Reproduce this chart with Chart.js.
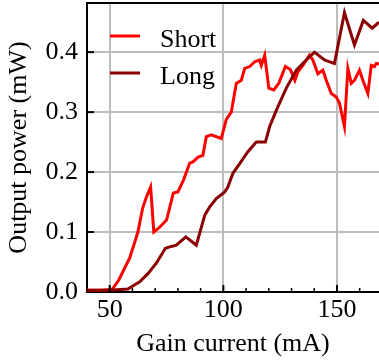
<!DOCTYPE html>
<html>
<head>
<meta charset="utf-8">
<script src="https://cdn.jsdelivr.net/npm/chart.js@4.4.1/dist/chart.umd.min.js"></script>
<style>
  html, body { margin: 0; padding: 0; background: #fff; overflow: hidden; }
  canvas { display: block; }
</style>
</head>
<body>
<canvas id="chart" width="379" height="360"></canvas>
<script>
// Laser output power versus gain current for two cavity lengths
const seriesLabels = ['Short', 'Long'];

const shortCurrent = [40, 46, 51, 54, 56.6, 58.8, 61, 62.4, 64.5, 66.3, 68, 69.4, 72, 75, 78, 80, 82.5,
  85.2, 86.6, 88.9, 91, 92.5, 94.7, 99.1, 101.3, 103.5, 105.7, 107.9, 109.4, 111.6, 113.8, 116, 116.7,
  118.2, 120, 122.2, 124.4, 127.3, 129.5, 131.5, 132.8, 135, 137.9, 139.4, 141.6, 143.8, 145.3, 147.5,
  149.7, 151.1, 153.3, 154.8, 156.3, 157.7, 159.9, 161.4, 163.6, 165.1, 166.5, 167.3, 168.5];
const shortPower = [0.003, 0.003, 0.004, 0.02, 0.04, 0.057, 0.083, 0.10, 0.14, 0.16, 0.175, 0.10, 0.108,
  0.12, 0.165, 0.167, 0.187, 0.215, 0.217, 0.225, 0.228, 0.259, 0.262, 0.256, 0.288, 0.30, 0.348, 0.353,
  0.373, 0.376, 0.384, 0.387, 0.378, 0.395, 0.34, 0.337, 0.348, 0.376, 0.371, 0.353, 0.367, 0.378, 0.395,
  0.387, 0.364, 0.37, 0.353, 0.331, 0.325, 0.315, 0.276, 0.373, 0.348, 0.353, 0.37, 0.353, 0.331, 0.378,
  0.376, 0.381, 0.38];

const longCurrent = [40, 50, 58, 61, 63.2, 66.9, 70.5, 74.5, 77.1, 79.3, 83.5, 88.1, 91.8, 94, 96.9,
  100.6, 102, 104.2, 107.2, 110.8, 114.5, 118.5, 120.4, 123.3, 127.7, 132.1, 135.7, 140.1, 144.5, 148.9,
  153.3, 157.7, 161.6, 165.5, 168.5];
const longPower = [0.003, 0.003, 0.005, 0.012, 0.017, 0.031, 0.048, 0.073, 0.076, 0.078, 0.092, 0.078,
  0.128, 0.142, 0.156, 0.167, 0.175, 0.198, 0.214, 0.234, 0.25, 0.25, 0.276, 0.303, 0.34, 0.37, 0.384,
  0.40, 0.387, 0.381, 0.466, 0.412, 0.453, 0.44, 0.45];

const xMajorTicks = [50, 100, 150];
const xMinorTicks = [60, 70, 80, 90, 110, 120, 130, 140, 160];
const yTicks = [0, 0.1, 0.2, 0.3, 0.4];

const SERIF = "'Liberation Serif', 'Times New Roman', serif";
const FONT_SIZE = 26;

Chart.defaults.font.family = SERIF;
Chart.defaults.font.size = FONT_SIZE;
Chart.defaults.color = '#000';

const toPoints = (xs, ys) => xs.map((x, i) => ({ x, y: ys[i] }));

// Frame pieces matplotlib-style: top spine and inward tick marks
const framePlugin = {
  id: 'frame',
  afterDraw(chart) {
    const { ctx, chartArea: a, scales } = chart;
    const xs = scales.x, ys = scales.y;
    ctx.save();
    ctx.strokeStyle = '#000';
    ctx.lineCap = 'butt';

    ctx.lineWidth = 2;
    ctx.beginPath();
    ctx.moveTo(a.left - 1, a.top);
    ctx.lineTo(a.right, a.top);
    ctx.stroke();

    const tick = (x1, y1, x2, y2, w) => {
      ctx.lineWidth = w;
      ctx.beginPath();
      ctx.moveTo(x1, y1);
      ctx.lineTo(x2, y2);
      ctx.stroke();
    };
    xMajorTicks.forEach(v => {
      const px = xs.getPixelForValue(v);
      tick(px, a.bottom, px, a.bottom - 7, 2);
    });
    xMinorTicks.forEach(v => {
      const px = xs.getPixelForValue(v);
      tick(px, a.bottom, px, a.bottom - 4, 1.5);
    });
    yTicks.slice(1).forEach(v => {
      const py = ys.getPixelForValue(v);
      tick(a.left, py, a.left + 7, py, 2);
    });
    ctx.restore();
  }
};

// Legend drawn inside the plot area, without a frame
const innerLegend = {
  id: 'innerLegend',
  afterDraw(chart) {
    const { ctx, chartArea: a } = chart;
    const entries = seriesLabels.map(label => chart.data.datasets.find(d => d.label === label));
    ctx.save();
    ctx.font = FONT_SIZE + 'px ' + SERIF;
    ctx.textBaseline = 'alphabetic';
    ctx.textAlign = 'left';
    entries.forEach((ds, i) => {
      const yLine = a.top + 33 + i * 37;
      ctx.strokeStyle = ds.borderColor;
      ctx.lineWidth = 3;
      ctx.beginPath();
      ctx.moveTo(a.left + 23, yLine);
      ctx.lineTo(a.left + 53, yLine);
      ctx.stroke();
      ctx.fillStyle = '#000';
      ctx.fillText(ds.label, a.left + 73, yLine + 10.5);
    });
    ctx.restore();
  }
};

new Chart(document.getElementById('chart'), {
  type: 'line',
  data: {
    datasets: [
      {
        label: seriesLabels[0],
        data: toPoints(shortCurrent, shortPower),
        borderColor: '#ff0000',
        borderWidth: 3,
        pointRadius: 0,
        tension: 0,
        order: 1
      },
      {
        label: seriesLabels[1],
        data: toPoints(longCurrent, longPower),
        borderColor: '#8b0000',
        borderWidth: 3,
        pointRadius: 0,
        tension: 0,
        order: 0
      }
    ]
  },
  options: {
    responsive: false,
    animation: false,
    devicePixelRatio: 1,
    layout: { padding: { top: 3, right: 0, bottom: 0, left: 0 } },
    plugins: {
      legend: { display: false },
      tooltip: { enabled: false }
    },
    scales: {
      x: {
        type: 'linear',
        min: 40,
        max: 168.5,
        afterBuildTicks: s => { s.ticks = xMajorTicks.map(v => ({ value: v })); },
        afterFit: s => { s.height = 68; s.paddingLeft = 0; s.paddingRight = 0; },
        ticks: { padding: 3, maxRotation: 0, callback: v => String(v) },
        grid: { color: '#bdbdbd', lineWidth: 2, drawTicks: false },
        border: { display: true, color: '#000', width: 2 },
        title: { display: true, text: 'Gain current (mA)', padding: { top: 0, bottom: 0 } }
      },
      y: {
        type: 'linear',
        min: 0,
        max: 0.482,
        afterBuildTicks: s => { s.ticks = yTicks.map(v => ({ value: v })); },
        afterFit: s => { s.width = 87; s.paddingTop = 0; s.paddingBottom = 0; },
        ticks: { padding: 9, callback: v => v.toFixed(1) },
        grid: { color: '#bdbdbd', lineWidth: 2, drawTicks: false },
        border: { display: true, color: '#000', width: 2 },
        title: { display: true, text: 'Output power (mW)', padding: { top: 4, bottom: 0 } }
      }
    }
  },
  plugins: [framePlugin, innerLegend]
});
</script>
</body>
</html>
